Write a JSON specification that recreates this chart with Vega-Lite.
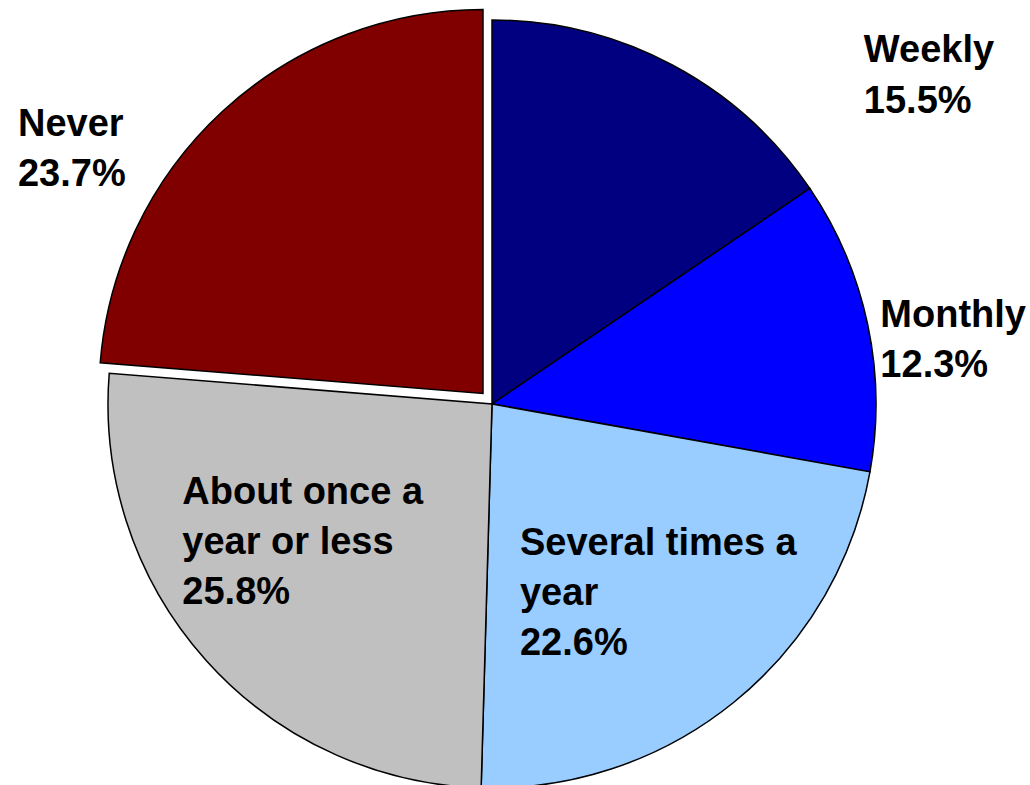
{
  "$schema": "https://vega.github.io/schema/vega-lite/v6.json",
  "autosize": "none",
  "width": 768,
  "height": 762,
  "padding": {"left": 108, "top": 23, "right": 154, "bottom": 0},
  "background": "white",
  "config": {"view": {"stroke": null}},
  "data": {
    "values": [
      {"cat": "Weekly", "pct": 15.5, "o": 1, "label": "Weekly\n15.5%"},
      {"cat": "Monthly", "pct": 12.3, "o": 2, "label": "Monthly\n12.3%"},
      {"cat": "Several times a year", "pct": 22.6, "o": 3, "label": "Several times a\nyear\n22.6%"},
      {"cat": "About once a year or less", "pct": 25.8, "o": 4, "label": "About once a\nyear or less\n25.8%"},
      {"cat": "Never", "pct": 23.7, "o": 5, "label": "Never\n23.7%"}
    ]
  },
  "encoding": {
    "theta": {"field": "pct", "type": "quantitative", "stack": true},
    "order": {"field": "o", "type": "quantitative", "sort": "ascending"}
  },
  "layer": [
    {
      "mark": {"type": "arc", "radius": 384, "stroke": "black", "strokeWidth": 1.5},
      "encoding": {
        "color": {
          "field": "cat", "type": "nominal", "legend": null,
          "scale": {
            "domain": ["Weekly", "Monthly", "Several times a year", "About once a year or less", "Never"],
            "range": ["#000080", "#0000FF", "#99CCFF", "#C0C0C0", "#800000"]
          }
        },
        "opacity": {"condition": {"test": "datum.cat === 'Never'", "value": 0}, "value": 1}
      }
    },
    {
      "mark": {"type": "arc", "radius": 384, "stroke": "black", "strokeWidth": 1.5, "xOffset": -9, "yOffset": -10.5},
      "encoding": {
        "color": {"field": "cat", "type": "nominal", "legend": null},
        "opacity": {"condition": {"test": "datum.cat === 'Never'", "value": 1}, "value": 0}
      }
    },
    {
      "mark": {"type": "text", "radius": 384, "dx": 192, "dy": -3, "align": "left", "baseline": "alphabetic", "lineBreak": "\n", "lineHeight": 51, "font": "Liberation Sans", "fontWeight": "bold", "fontSize": 38, "color": "black"},
      "encoding": {
        "text": {"field": "label", "type": "nominal"},
        "opacity": {"condition": {"test": "datum.cat === 'Weekly'", "value": 1}, "value": 0}
      }
    },
    {
      "mark": {"type": "text", "radius": 396, "dx": 1, "dy": 5, "align": "left", "baseline": "alphabetic", "lineBreak": "\n", "lineHeight": 50, "font": "Liberation Sans", "fontWeight": "bold", "fontSize": 38, "color": "black"},
      "encoding": {
        "text": {"field": "label", "type": "nominal"},
        "opacity": {"condition": {"test": "datum.cat === 'Monthly'", "value": 1}, "value": 0}
      }
    },
    {
      "mark": {"type": "text", "radius": 195, "dx": -95, "dy": 0, "align": "left", "baseline": "alphabetic", "lineBreak": "\n", "lineHeight": 50, "font": "Liberation Sans", "fontWeight": "bold", "fontSize": 38, "color": "black"},
      "encoding": {
        "text": {"field": "label", "type": "nominal"},
        "opacity": {"condition": {"test": "datum.cat === 'Several times a year'", "value": 1}, "value": 0}
      }
    },
    {
      "mark": {"type": "text", "radius": 150, "dx": -198, "dy": 0, "align": "left", "baseline": "alphabetic", "lineBreak": "\n", "lineHeight": 50, "font": "Liberation Sans", "fontWeight": "bold", "fontSize": 38, "color": "black"},
      "encoding": {
        "text": {"field": "label", "type": "nominal"},
        "opacity": {"condition": {"test": "datum.cat === 'About once a year or less'", "value": 1}, "value": 0}
      }
    },
    {
      "mark": {"type": "text", "radius": 384, "dx": -213.6, "dy": 14, "align": "left", "baseline": "alphabetic", "lineBreak": "\n", "lineHeight": 50, "font": "Liberation Sans", "fontWeight": "bold", "fontSize": 38, "color": "black"},
      "encoding": {
        "text": {"field": "label", "type": "nominal"},
        "opacity": {"condition": {"test": "datum.cat === 'Never'", "value": 1}, "value": 0}
      }
    }
  ]
}
